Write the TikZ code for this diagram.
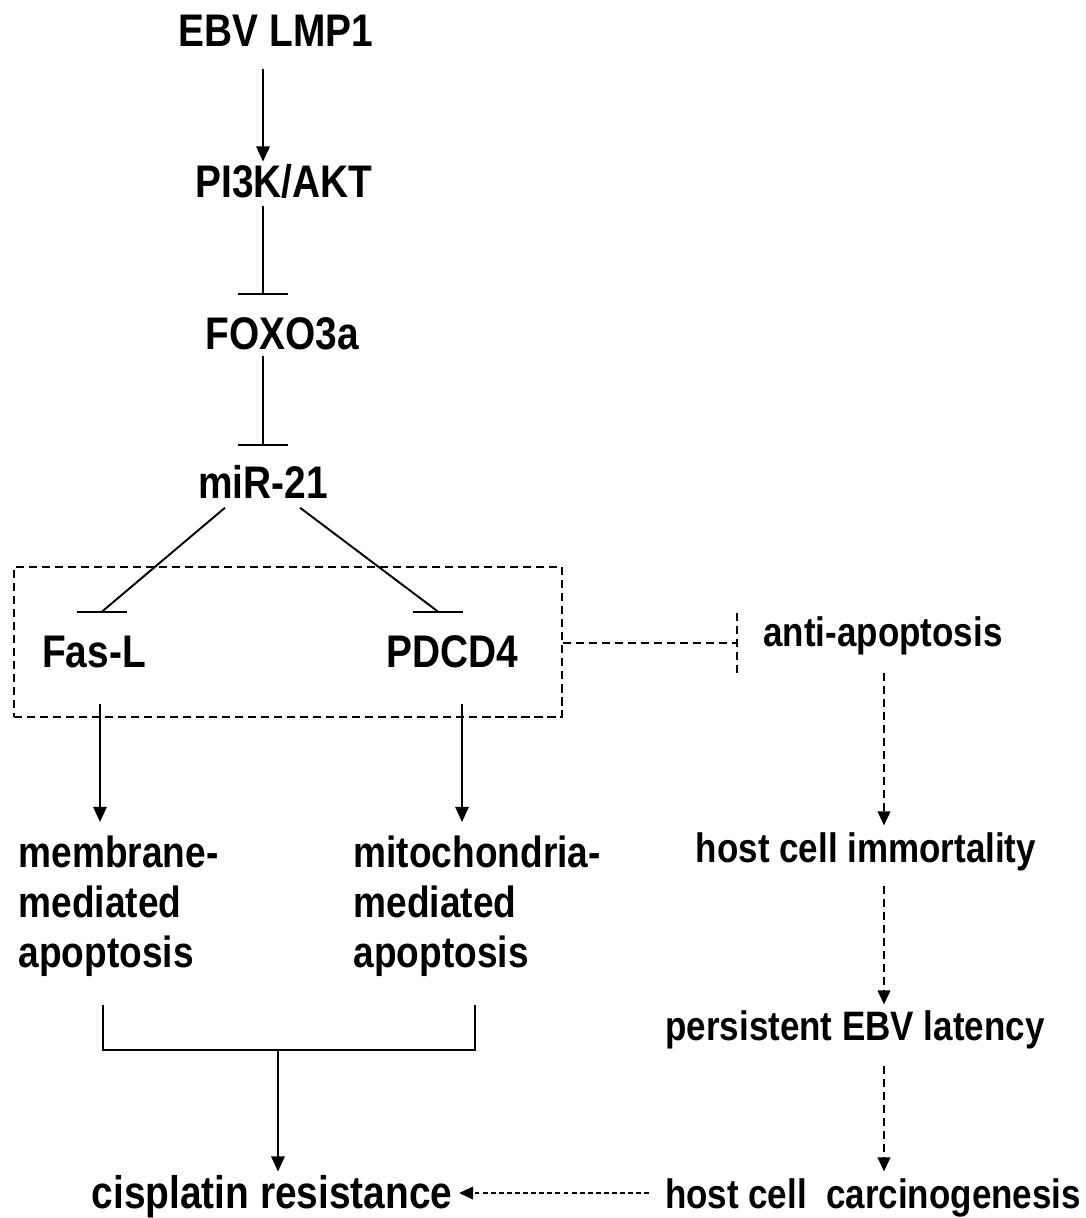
\documentclass[tikz,border=0pt]{standalone}
\usepackage{fontspec}
\setmainfont[FakeStretch=0.85]{Liberation Sans}
\usetikzlibrary{arrows.meta,fit}

\begin{document}
\begin{tikzpicture}[x=0.01cm,y=-0.01cm,
  big/.style={inner sep=0,font=\fontsize{13}{15}\selectfont\bfseries,text height=9.3pt,text depth=0pt},
  small/.style={inner sep=0,font=\fontsize{11.7}{14}\selectfont\bfseries,text height=8.5pt,text depth=0pt},
  lbl/.style={inner sep=0,font=\fontsize{12.4}{14.2}\selectfont\bfseries,align=left},
  link/.style={line width=0.55pt},
  act/.style={link,-{Triangle[length=4.3pt,width=3.8pt]}},
  inh/.style={link,-{Bar[width=0.5cm]}},
  dsh/.style={link,dash pattern=on 2.3pt off 1.4pt},
  dact/.style={dsh,-{Triangle[length=4pt,width=3.6pt]}},
  fact/.style={link,dash pattern=on 1.4pt off 0.9pt,-{Triangle[length=4pt,width=3.6pt]}}]
\useasboundingbox (0,0) rectangle (1086,1218);
\node[big,anchor=base] (ebv) at (276,47) {EBV LMP1};
\node[big,anchor=base] (pi3k) at (284,197) {PI3K/AKT};
\node[big,anchor=base] (foxo) at (282,349) {FOXO3a};
\node[big,anchor=base] (mir) at (263,498) {miR-21};
\node[big,anchor=base] (fasl) at (94,667) {Fas-L};
\node[big,anchor=base] (pdcd) at (452,667) {PDCD4};
\node[small,anchor=base] (anti) at (883,646) {anti-apoptosis};
\node[lbl,anchor=north west] (memb) at (18,835) {membrane-\\mediated\\apoptosis};
\node[lbl,anchor=north west] (mito) at (353,835) {mitochondria-\\mediated\\apoptosis};
\node[small,anchor=base] (immort) at (866,862) {host cell immortality};
\node[small,anchor=base] (persist) at (855,1040) {persistent EBV latency};
\node[small,anchor=base] (carc) at (873,1208) {host cell\ \ carcinogenesis};
\node[big,anchor=base] (cis) at (272,1208) {cisplatin resistance};
\node[dsh,draw,inner sep=0,fit={(14,567) (562,717)}] (grp) {};
\coordinate (spine) at (263,0);
\coordinate (lcol) at (100,0);
\coordinate (mcol) at (462,0);
\coordinate (rcol) at (884,0);
\coordinate (stop) at (737,643);
\coordinate (join) at (278,1050);
\coordinate (fbar) at ([shift={(8,-22)}]fasl.north);
\coordinate (pbar) at ([shift={(-14,-22)}]pdcd.north);
\draw[act,shorten <=0.21cm,shorten >=0.02cm] (ebv.south -| spine) -- (pi3k.north -| spine);
\draw[inh,shorten <=0.08cm,shorten >=0.21cm] (pi3k.south -| spine) -- (foxo.north -| spine);
\draw[inh,shorten <=0.06cm,shorten >=0.19cm] (foxo.south -| spine) -- (mir.north -| spine);
\draw[link] ([shift={(-38,9)}]mir.south) -- (fbar);
\draw[link] ([shift={(37,9)}]mir.south) -- (pbar);
\draw[link] ([xshift=-0.25cm]fbar) -- ([xshift=0.25cm]fbar);
\draw[link] ([xshift=-0.25cm]pbar) -- ([xshift=0.25cm]pbar);
\draw[dsh] (grp.east |- stop) -- (stop);
\draw[dsh] ([yshift=0.3cm]stop) -- ([yshift=-0.3cm]stop);
\draw[act,shorten <=0.36cm,shorten >=0.13cm] (fasl.south -| lcol) -- (memb.north -| lcol);
\draw[act,shorten <=0.36cm,shorten >=0.13cm] (pdcd.south -| mcol) -- (mito.north -| mcol);
\draw[link] (103,1005) |- (join) -| (475,1005);
\draw[act,shorten >=0.03cm] (join) -- (cis.north -| join);
\draw[dact,shorten <=0.26cm,shorten >=0.06cm] (anti.south -| rcol) -- (immort.north -| rcol);
\draw[dact,shorten <=0.23cm,shorten >=0.05cm] (immort.south -| rcol) -- (persist.north -| rcol);
\draw[dact,shorten <=0.25cm,shorten >=0.06cm] (persist.south -| rcol) -- (carc.north -| rcol);
\draw[fact,shorten <=0.15cm,shorten >=0.06cm] (carc.west) -- (carc.west -| cis.east);
\end{tikzpicture}
\end{document}
